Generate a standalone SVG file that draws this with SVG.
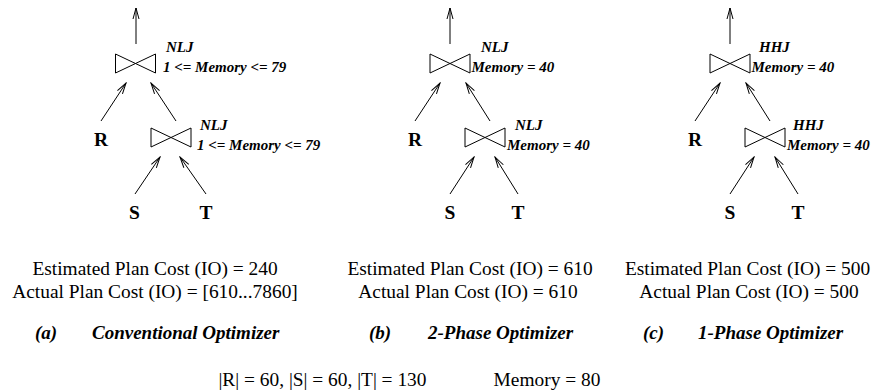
<svg xmlns="http://www.w3.org/2000/svg" width="875" height="392" viewBox="0 0 875 392">
<style>
.bt{fill:none;stroke:#000;stroke-width:1}
.lbl{font-family:"Liberation Serif",serif;font-weight:bold;font-style:italic;font-size:15px;fill:#000}
.leaf{font-family:"Liberation Serif",serif;font-weight:bold;font-size:19.5px;fill:#000;text-anchor:middle}
.cost{font-family:"Liberation Serif",serif;font-size:19.4px;fill:#000;text-anchor:middle}
.cap{font-family:"Liberation Serif",serif;font-weight:bold;font-style:italic;font-size:19px;fill:#000}
.ed{stroke:#000;stroke-width:1;fill:none;marker-end:url(#ah)}
</style>
<defs>
<marker id="ah" markerUnits="userSpaceOnUse" viewBox="-12 -5 13 10" markerWidth="13" markerHeight="10" refX="0" refY="0" orient="auto">
<path d="M-11,-3 L0,0 L-11,3" fill="none" stroke="#000" stroke-width="1"/>
</marker>
</defs>
<g id="connectors">
<line class="ed" x1="136" y1="44" x2="136" y2="8"/>
<line class="ed" x1="101" y1="121" x2="126" y2="83"/>
<line class="ed" x1="176" y1="121" x2="151" y2="83"/>
<line class="ed" x1="135" y1="194" x2="160" y2="157"/>
<line class="ed" x1="206" y1="194" x2="180" y2="157"/>
<line class="ed" x1="450" y1="44" x2="450" y2="8"/>
<line class="ed" x1="415" y1="121" x2="440" y2="83"/>
<line class="ed" x1="490" y1="121" x2="466" y2="83"/>
<line class="ed" x1="450" y1="194" x2="474" y2="157"/>
<line class="ed" x1="518" y1="194" x2="495" y2="157"/>
<line class="ed" x1="730" y1="44" x2="730" y2="8"/>
<line class="ed" x1="695" y1="121" x2="720" y2="83"/>
<line class="ed" x1="770" y1="121" x2="746" y2="83"/>
<line class="ed" x1="730" y1="194" x2="754" y2="157"/>
<line class="ed" x1="798" y1="194" x2="775" y2="157"/>
</g>
<g id="a-join-top">
<path class="bt" d="M115.5,54 L155.5,73 L155.5,54 L115.5,73 Z"/>
<text class="lbl" x="166" y="52">NLJ</text>
<text class="lbl" x="163" y="72">1 &lt;= Memory &lt;= 79</text>
</g>
<g id="a-join-low">
<path class="bt" d="M151,128 L191,147 L191,128 L151,147 Z"/>
<text class="lbl" x="200" y="130">NLJ</text>
<text class="lbl" x="197" y="150">1 &lt;= Memory &lt;= 79</text>
</g>
<g id="a-R"><text class="leaf" x="101" y="146">R</text></g>
<g id="a-S"><text class="leaf" x="134.5" y="219">S</text></g>
<g id="a-T"><text class="leaf" x="206" y="219">T</text></g>
<g id="b-join-top">
<path class="bt" d="M430,54 L470,73 L470,54 L430,73 Z"/>
<text class="lbl" x="481" y="52">NLJ</text>
<text class="lbl" x="471.5" y="72">Memory = 40</text>
</g>
<g id="b-join-low">
<path class="bt" d="M465,128 L505,147 L505,128 L465,147 Z"/>
<text class="lbl" x="515" y="130">NLJ</text>
<text class="lbl" x="507" y="150">Memory = 40</text>
</g>
<g id="b-R"><text class="leaf" x="415" y="146">R</text></g>
<g id="b-S"><text class="leaf" x="450" y="219">S</text></g>
<g id="b-T"><text class="leaf" x="518" y="219">T</text></g>
<g id="c-join-top">
<path class="bt" d="M710,54 L750,73 L750,54 L710,73 Z"/>
<text class="lbl" x="759" y="52">HHJ</text>
<text class="lbl" x="751.5" y="72">Memory = 40</text>
</g>
<g id="c-join-low">
<path class="bt" d="M745,128 L785,147 L785,128 L745,147 Z"/>
<text class="lbl" x="793" y="130">HHJ</text>
<text class="lbl" x="787" y="150">Memory = 40</text>
</g>
<g id="c-R"><text class="leaf" x="695" y="146">R</text></g>
<g id="c-S"><text class="leaf" x="730" y="219">S</text></g>
<g id="c-T"><text class="leaf" x="798" y="219">T</text></g>
<g id="captions">
<text class="cost" x="155" y="275">Estimated Plan Cost (IO) = 240</text>
<text class="cost" x="155" y="298">Actual Plan Cost (IO) = [610...7860]</text>
<text class="cost" x="470" y="275">Estimated Plan Cost (IO) = 610</text>
<text class="cost" x="468" y="298">Actual Plan Cost (IO) = 610</text>
<text class="cost" x="747.5" y="275">Estimated Plan Cost (IO) = 500</text>
<text class="cost" x="749" y="298">Actual Plan Cost (IO) = 500</text>
<text class="cap" x="35" y="339">(a)</text>
<text class="cap" x="92" y="339">Conventional Optimizer</text>
<text class="cap" x="369" y="339">(b)</text>
<text class="cap" x="428" y="339">2-Phase Optimizer</text>
<text class="cap" x="643" y="339">(c)</text>
<text class="cap" x="698" y="339">1-Phase Optimizer</text>
<text class="cost" x="322.5" y="386">|R| = 60, |S| = 60, |T| = 130</text>
<text class="cost" x="547" y="386">Memory = 80</text>
</g>
</svg>
